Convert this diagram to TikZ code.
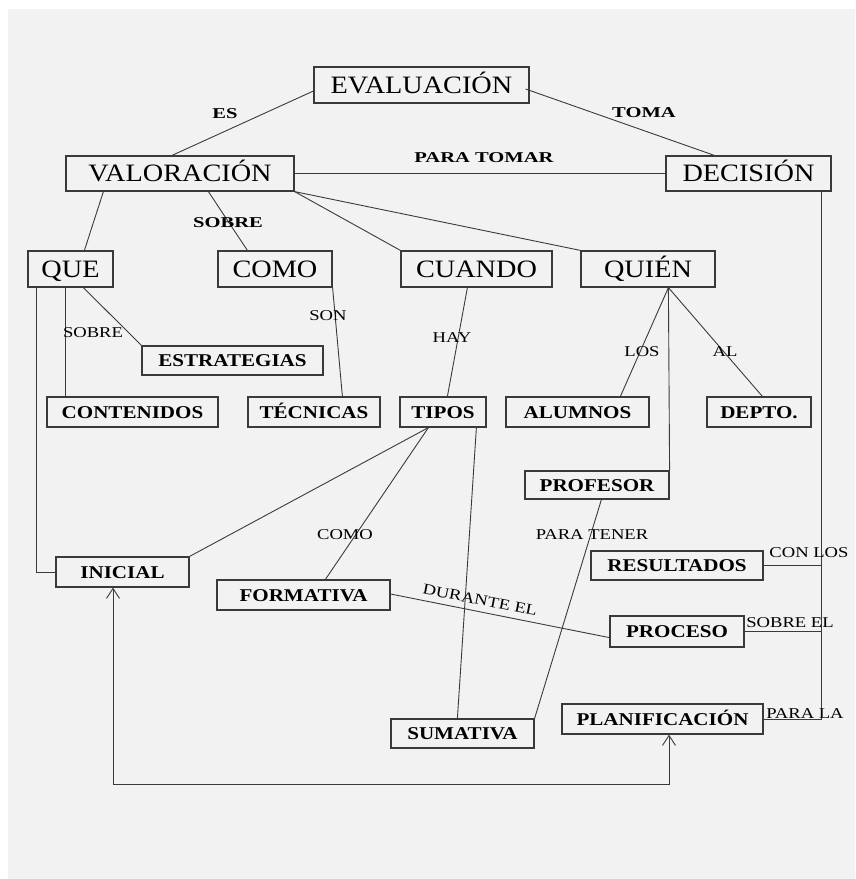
\documentclass[tikz,border=0pt]{standalone}
\usepackage{fontspec}
\usepackage{tikz}
\usetikzlibrary{calc,arrows.meta}

\newfontfamily\bigfont[FakeStretch=1.13]{Liberation Serif}
\newfontfamily\boxfont[FakeStretch=1.17]{Liberation Serif}
\newfontfamily\keyfont[FakeStretch=1.37]{Liberation Serif}
\newfontfamily\wordfont[FakeStretch=1.24]{Liberation Serif}

\definecolor{paper}{HTML}{F2F2F2}
\definecolor{ink}{HTML}{3A3A3A}

\tikzset{
	concept/.style={draw=ink, line width=1.2pt, inner sep=0pt,
		text height=16.5pt, text depth=0pt,
		font=\bigfont\fontsize{25}{30}\selectfont},
	detail/.style={draw=ink, line width=1.2pt, inner sep=0pt,
		text height=12pt, text depth=0pt,
		font=\boxfont\bfseries\fontsize{18}{22}\selectfont},
	link/.style={draw=ink, line width=0.9pt},
	keyword/.style={inner sep=0pt, text height=10pt, text depth=0pt,
		font=\keyfont\bfseries\fontsize{15}{18}\selectfont},
	linkword/.style={inner sep=0pt, text height=10pt, text depth=0pt,
		font=\wordfont\fontsize{15}{18}\selectfont},
}

\begin{document}
\begin{tikzpicture}[x=1pt, y=-1pt]

% canvas %{{{2

	\useasboundingbox (0,0) rectangle (855,879);
	\fill[paper] (8,9) rectangle (855,879);

% concepts %{{{2

	\node[concept, minimum width=215pt, minimum height=36pt] (eval)   at (421.5,85)  {EVALUACIÓN};
	\node[concept, minimum width=228pt, minimum height=35pt] (valor)  at (180,173.5) {VALORACIÓN};
	\node[concept, minimum width=165pt, minimum height=35pt] (decis)  at (748.5,173.5) {DECISIÓN};

	\node[concept, minimum width=85pt,  minimum height=36pt] (que)    at (70.5,269)  {QUE};
	\node[concept, minimum width=114pt, minimum height=36pt] (como)   at (275,269)   {COMO};
	\node[concept, minimum width=151pt, minimum height=36pt] (cuando) at (476.5,269) {CUANDO};
	\node[concept, minimum width=134pt, minimum height=36pt] (quien)  at (648,269)   {QUIÉN};

% details %{{{2

	\node[detail, minimum width=181pt, minimum height=29pt] (estrat) at (232.5,360.5) {ESTRATEGIAS};
	\node[detail, minimum width=171pt, minimum height=30pt] (conten) at (132.5,412)   {CONTENIDOS};
	\node[detail, minimum width=132pt, minimum height=30pt] (tecn)   at (314,412)     {TÉCNICAS};
	\node[detail, minimum width=86pt,  minimum height=30pt] (tipos)  at (443,412)     {TIPOS};
	\node[detail, minimum width=143pt, minimum height=30pt] (alumn)  at (577.5,412)   {ALUMNOS};
	\node[detail, minimum width=104pt, minimum height=30pt] (depto)  at (759,412)     {DEPTO.};
	\node[detail, minimum width=144pt, minimum height=28pt] (prof)   at (597,485)     {PROFESOR};

	\node[detail, minimum width=133pt, minimum height=30pt] (inic)   at (122.5,572)   {INICIAL};
	\node[detail, minimum width=173pt, minimum height=30pt] (form)   at (303.5,595)   {FORMATIVA};
	\node[detail, minimum width=143pt, minimum height=29pt] (suma)   at (462.5,733.5) {SUMATIVA};
	\node[detail, minimum width=172pt, minimum height=29pt] (resul)  at (677,565.5)   {RESULTADOS};
	\node[detail, minimum width=134pt, minimum height=31pt] (proc)   at (677,631.5)   {PROCESO};
	\node[detail, minimum width=201pt, minimum height=30pt] (plan)   at (662.5,719)   {PLANIFICACIÓN};

% connectors %{{{2

	\draw[link] ($(eval.west)+(0,6)$) -- ($(valor.north)+(-8,0)$);
	\draw[link] ($(eval.east)+(-4,4)$) -- ($(decis.north west)+(49,0)$);
	\draw[link] (valor.east) -- (decis.west);

	\draw[link] ($(valor.south west)+(38,0)$) -- ($(que.north west)+(57,0)$);
	\draw[link] ($(valor.south west)+(143,0)$) -- ($(como.north west)+(30,0)$);
	\draw[link] (valor.south east) -- (cuando.north west);
	\draw[link] (valor.south east) -- (quien.north west);

	\draw[link] ($(que.south west)+(9,0)$) |- (inic.west);
	\draw[link] ($(que.south west)+(38,0)$) -- ($(conten.north west)+(19,0)$);
	\draw[link] ($(que.south west)+(56,0)$) -- (estrat.north west);

	\draw[link] (como.south east) -- ($(tecn.north west)+(95,0)$);
	\draw[link] ($(cuando.south west)+(67,0)$) -- ($(tipos.north west)+(48,0)$);

	\coordinate (Q) at ($(quien.south west)+(88,0)$);
	\draw[link] (Q) -- ($(alumn.north west)+(115,0)$);
	\draw[link] (Q) -- ($(depto.north west)+(56,0)$);
	\draw[link] (Q) -- (prof.north east);

	\coordinate (T) at ($(tipos.south west)+(29,0)$);
	\draw[link] (T) -- (inic.north east);
	\draw[link] (T) -- ($(form.north west)+(109,0)$);
	\draw[link] ($(tipos.south west)+(77,0)$) -- ($(suma.north west)+(67,0)$);

	\draw[link] ($(form.east)+(0,-1)$) -- ($(proc.south west)+(0,-10)$);
	\draw[link] ($(prof.south west)+(77,0)$) -- (suma.north east);

	\coordinate (R) at ($(decis.south west)+(156,0)$);
	\draw[link] (R) |- (plan.east);
	\draw[link] (resul.east) -- (resul.east -| R);
	\draw[link] (proc.east) -- (proc.east -| R);

	\coordinate (L) at ($(inic.south)+(-9.5,197)$);
	\draw[link, {Straight Barb[length=10pt,width=13pt]}-{Straight Barb[length=10pt,width=13pt]}]
		($(inic.south)+(-9.5,0)$) -- (L) -| ($(plan.south)+(6.5,0)$);

% link words %{{{2

	\node[keyword] (es)        at (225,113) {ES};
	\node[keyword] (toma)      at (644,112) {TOMA};
	\node[keyword] (paratomar) at (484,157) {PARA TOMAR};
	\node[keyword] (sobreA)    at (228,222) {SOBRE};

	\node[linkword] (sobreB)    at (93,332)  {SOBRE};
	\node[linkword] (son)       at (328,315) {SON};
	\node[linkword] (hay)       at (452,337) {HAY};
	\node[linkword] (los)       at (642,351) {LOS};
	\node[linkword] (al)        at (725,351) {AL};
	\node[linkword] (comoB)     at (345,534) {COMO};
	\node[linkword, rotate=-11] (durante) at (480,600) {DURANTE EL};
	\node[linkword] (paratener) at (592,534) {PARA TENER};
	\node[linkword] (conlos)    at (809,552) {CON LOS};
	\node[linkword] (sobreel)   at (790,622) {SOBRE EL};
	\node[linkword] (parala)    at (805,713) {PARA LA};

% closing %{{{2

\end{tikzpicture}
\end{document}
